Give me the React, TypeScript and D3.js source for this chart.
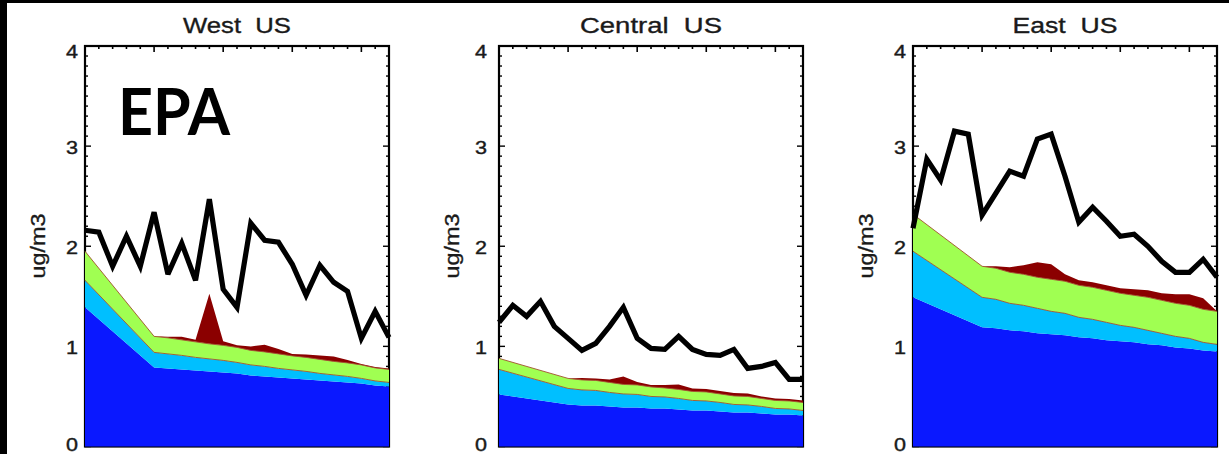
import React from "react";
import * as d3 from "d3";

// ---- data ----
const years = [1990, 1991, 1992, 1993, 1994, 1995, 1996, 1997, 1998, 1999, 2000, 2001, 2002, 2003, 2004, 2005, 2006, 2007, 2008, 2009, 2010, 2011, 2012];
const emisYears = [1990, 1995, 1996, 1997, 1998, 1999, 2000, 2001, 2002, 2003, 2004, 2005, 2006, 2007, 2008, 2009, 2010, 2011, 2012];
const regions = ["West  US", "Central  US", "East  US"];
const yTicks = [0, 1, 2, 3, 4];

// observed (black line), ug/m3
const westObs = [2.16, 2.14, 1.80, 2.10, 1.80, 2.34, 1.72, 2.03, 1.66, 2.47, 1.57, 1.39, 2.23, 2.06, 2.04, 1.82, 1.51, 1.81, 1.64, 1.55, 1.08, 1.35, 1.09];
const centralObs = [1.24, 1.41, 1.30, 1.45, 1.20, 1.08, 0.96, 1.03, 1.20, 1.39, 1.08, 0.98, 0.97, 1.10, 0.97, 0.92, 0.91, 0.97, 0.78, 0.80, 0.84, 0.67, 0.67];
const eastObs = [2.18, 2.87, 2.66, 3.15, 3.12, 2.31, 2.53, 2.75, 2.70, 3.07, 3.12, 2.70, 2.24, 2.39, 2.25, 2.10, 2.12, 2.00, 1.85, 1.74, 1.74, 1.87, 1.69];

// stacked components (blue, cyan, green, dark red)
const westBlue = [1.39, 0.79, 0.78, 0.77, 0.76, 0.75, 0.74, 0.73, 0.71, 0.70, 0.69, 0.68, 0.67, 0.66, 0.65, 0.64, 0.63, 0.61, 0.60];
const westCyan = [0.27, 0.15, 0.145, 0.14, 0.13, 0.125, 0.12, 0.11, 0.105, 0.10, 0.09, 0.085, 0.08, 0.07, 0.065, 0.06, 0.05, 0.045, 0.04];
const westGreen = [0.29, 0.16, 0.16, 0.155, 0.155, 0.15, 0.15, 0.15, 0.145, 0.145, 0.145, 0.14, 0.14, 0.14, 0.135, 0.135, 0.135, 0.13, 0.13];
const westRed = [0, 0, 0.01, 0.03, 0.02, 0.50, 0.04, 0.02, 0.04, 0.07, 0.05, 0.02, 0.03, 0.04, 0.05, 0.03, 0.01, 0.01, 0.01];

const centralBlue = [0.52, 0.42, 0.41, 0.41, 0.40, 0.39, 0.39, 0.38, 0.38, 0.37, 0.36, 0.36, 0.35, 0.34, 0.34, 0.33, 0.32, 0.32, 0.31];
const centralCyan = [0.25, 0.16, 0.155, 0.15, 0.14, 0.135, 0.13, 0.12, 0.115, 0.11, 0.10, 0.095, 0.09, 0.08, 0.075, 0.07, 0.06, 0.055, 0.05];
const centralGreen = [0.11, 0.10, 0.10, 0.10, 0.10, 0.095, 0.095, 0.095, 0.09, 0.09, 0.09, 0.09, 0.085, 0.085, 0.085, 0.08, 0.08, 0.08, 0.08];
const centralRed = [0, 0, 0.02, 0.02, 0.03, 0.08, 0.03, 0.02, 0.03, 0.05, 0.03, 0.03, 0.03, 0.03, 0.03, 0.02, 0.02, 0.02, 0.02];

const eastBlue = [1.49, 1.19, 1.18, 1.16, 1.15, 1.13, 1.12, 1.11, 1.09, 1.08, 1.06, 1.05, 1.04, 1.02, 1.01, 0.99, 0.98, 0.96, 0.95];
const eastCyan = [0.46, 0.30, 0.29, 0.27, 0.26, 0.25, 0.23, 0.22, 0.20, 0.19, 0.18, 0.16, 0.15, 0.14, 0.12, 0.11, 0.10, 0.08, 0.07];
const eastGreen = [0.37, 0.31, 0.31, 0.31, 0.31, 0.31, 0.32, 0.32, 0.32, 0.32, 0.32, 0.32, 0.32, 0.33, 0.33, 0.33, 0.33, 0.33, 0.33];
const eastRed = [0, 0, 0.02, 0.05, 0.09, 0.15, 0.15, 0.07, 0.05, 0.05, 0.05, 0.05, 0.06, 0.07, 0.07, 0.09, 0.11, 0.11, 0.0];

const layerKeys = ["blue", "cyan", "green", "red"];
const layerColors = { blue: "#0a18ff", cyan: "#00bfff", green: "#a0ff52", red: "#8b0000" };

// ---- layout ----
const W = 1229;
const H = 454;
const PW = 304;
const Y0 = 446.5;
const Y4 = 46;
const panels = [
  { left: 85, labelRight: 78, titleLen: 108, obs: westObs, comp: [westBlue, westCyan, westGreen, westRed] },
  { left: 499, labelRight: 487, titleLen: 142, obs: centralObs, comp: [centralBlue, centralCyan, centralGreen, centralRed] },
  { left: 913, labelRight: 906, titleLen: 105, obs: eastObs, comp: [eastBlue, eastCyan, eastGreen, eastRed] },
];

const FONT = "'Liberation Sans', Arial, Helvetica, sans-serif";
const labelNudge = (t: number) => (t === 4 ? 6 : t === 0 ? -1.5 : 1.5);

function Panel({ p, title }: { p: any; title: string }) {
  const x = d3.scaleLinear().domain([years[0], years[years.length - 1]]).range([p.left, p.left + PW]);
  const y = d3.scaleLinear().domain([0, 4]).range([Y0, Y4]);

  const rows = emisYears.map((yr, i) => {
    const r: any = { year: yr };
    layerKeys.forEach((k, j) => (r[k] = p.comp[j][i]));
    return r;
  });
  const stacked = d3.stack().keys(layerKeys)(rows);
  const area = d3
    .area<any>()
    .x((d) => x(d.data.year))
    .y0((d) => y(d[0]))
    .y1((d) => y(d[1]));
  const topLine = d3
    .line<any>()
    .x((d) => x(d.data.year))
    .y((d) => y(d[1]));
  const obsLine = d3
    .line<number>()
    .x((_, i) => x(years[i]))
    .y((d) => y(d));

  const minorY = d3.range(0, 40).map((i) => i / 10);
  const top = y(4);
  const bottom = y(0);
  const right = p.left + PW;

  return (
    <g>
      <text
        x={p.left + PW / 2}
        y={33}
        textAnchor="middle"
        fontFamily={FONT}
        fontSize={22.5}
        textLength={p.titleLen}
        lengthAdjust="spacingAndGlyphs"
        fill="#1a1a1a"
        stroke="#1a1a1a"
        strokeWidth={0.35}
      >
        {title.replace(/ /g, "\u00a0")}
      </text>
      <text
        transform={`translate(${p.left - 48},246) rotate(-90)`}
        textAnchor="middle"
        dominantBaseline="central"
        fontFamily={FONT}
        fontSize={20.5}
        textLength={65}
        lengthAdjust="spacingAndGlyphs"
        fill="#1a1a1a"
        stroke="#1a1a1a"
        strokeWidth={0.35}
      >
        ug/m3
      </text>
      {yTicks.map((t) => (
        <text
          key={t}
          x={p.labelRight}
          y={y(t) + labelNudge(t)}
          textAnchor="end"
          dominantBaseline="central"
          fontFamily={FONT}
          fontSize={18}
          textLength={12}
          lengthAdjust="spacingAndGlyphs"
          fill="#1a1a1a"
          stroke="#1a1a1a"
          strokeWidth={0.4}
        >
          {t}
        </text>
      ))}
      {/* frame */}
      <rect x={p.left} y={top} width={PW} height={bottom - top} fill="white" stroke="#000" strokeWidth={2.2} />
      {/* top ticks */}
      {years.map((yr, i) => (
        <line key={"tx" + yr} x1={x(yr)} x2={x(yr)} y1={top} y2={top + (i % 5 === 0 ? 6 : 3)} stroke="#000" strokeWidth={1.6} />
      ))}
      {/* left / right ticks */}
      {minorY.map((v, i) => {
        const len = i % 10 === 0 ? 6 : 3;
        return (
          <g key={"ty" + i}>
            <line x1={p.left} x2={p.left + len} y1={y(v)} y2={y(v)} stroke="#000" strokeWidth={1.4} />
            <line x1={right - len} x2={right} y1={y(v)} y2={y(v)} stroke="#000" strokeWidth={1.4} />
          </g>
        );
      })}
      {/* stacked layers */}
      {stacked.map((s: any) => (
        <path key={s.key} d={area(s) || ""} fill={(layerColors as any)[s.key]} stroke="none" />
      ))}
      {stacked
        .filter((s: any) => s.key === "cyan" || s.key === "green")
        .map((s: any) => (
          <path key={"e" + s.key} d={topLine(s) || ""} fill="none" stroke="#a0522d" strokeWidth={0.9} />
        ))}
      <path d={obsLine(p.obs) || ""} fill="none" stroke="#000" strokeWidth={5.2} strokeLinejoin="miter" strokeMiterlimit={3} />
    </g>
  );
}

export default function App() {
  return (
    <svg width={W} height={H} style={{ position: "absolute", left: 0, top: 0, background: "#fff" }}>
      <rect x={0} y={0} width={W} height={H} fill="#fff" />
      {panels.map((p, i) => (
        <Panel key={i} p={p} title={regions[i]} />
      ))}
      <text
        x={118}
        y={135}
        fontFamily="Lato, 'Open Sans', sans-serif"
        fontWeight={700}
        fontSize={65}
        textLength={112}
        lengthAdjust="spacingAndGlyphs"
        fill="#000"
      >
        EPA
      </text>
      <rect x={0} y={0} width={7} height={H} fill="#000" />
      <rect x={0} y={0} width={W} height={3} fill="#000" />
    </svg>
  );
}
